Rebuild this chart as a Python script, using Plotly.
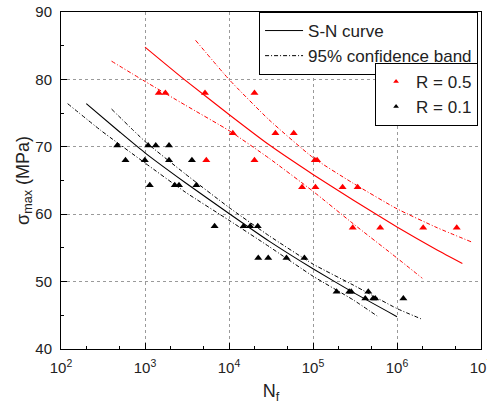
import plotly.graph_objects as go

# ---------------- data ----------------
# R = 0.5 test points
red_N = [1460, 1750, 5180, 20100, 11100, 35700, 59000, 5370, 20100, 105000, 112000,
         74100, 107000, 225000, 340000, 297000, 631000, 2050000, 5140000]
red_S = [78, 78, 78, 78, 72, 72, 72, 68, 68, 68, 68,
         64, 64, 64, 64, 58, 58, 58, 58]

# R = 0.1 test points
blk_N = [467, 1090, 1343, 1932, 586, 995, 1932, 3620, 1140, 2260, 2540, 4090,
         6740, 14900, 17900, 22000, 22300, 29300, 48300, 79000,
         191000, 270000, 285000, 455000, 419000, 520000, 550000, 1190000]
blk_S = [70.2, 70.2, 70.2, 70.2, 68, 68, 68, 68, 64.3, 64.3, 64.3, 64.3,
         58.2, 58.2, 58.2, 58.2, 53.5, 53.5, 53.5, 53.5,
         48.5, 48.5, 48.5, 48.5, 47.5, 47.5, 47.5, 47.5]

# S-N curves and 95% confidence bands
red_sn_N = [1000, 3000, 10000, 30000, 100000, 300000, 1000000, 3000000, 6000000]
red_sn_S = [84.8, 79.9, 74.8, 70.3, 65.9, 62.1, 58.1, 54.7, 52.7]
red_up_N = [4000, 10000, 30000, 100000, 300000, 1000000, 3000000, 8000000]
red_up_S = [85.8, 80.0, 74.0, 68.4, 64.6, 60.8, 58.0, 55.8]
red_lo_N = [400, 1000, 3000, 10000, 30000, 100000, 300000, 1000000, 2000000]
red_lo_S = [82.7, 79.7, 76.2, 72.4, 68.3, 63.4, 58.6, 53.5, 50.5]

blk_sn_N = [200, 500, 1000, 3000, 10000, 30000, 100000, 300000, 1000000]
blk_sn_S = [76.4, 72.2, 69.1, 64.7, 60.1, 56.0, 51.9, 48.4, 44.8]
blk_up_N = [400, 1000, 3000, 10000, 30000, 100000, 300000, 1000000, 2000000]
blk_up_S = [75.6, 70.8, 66.0, 61.0, 56.8, 52.6, 49.5, 46.0, 44.4]
blk_lo_N = [120, 300, 1000, 3000, 10000, 30000, 100000, 300000, 580000]
blk_lo_S = [76.4, 72.4, 67.6, 63.3, 59.1, 55.2, 50.8, 47.3, 44.9]

x_ticks = [100, 1000, 10000, 100000, 1000000, 10000000]
x_tick_text = ["10<sup>2</sup>", "10<sup>3</sup>", "10<sup>4</sup>",
               "10<sup>5</sup>", "10<sup>6</sup>", "10<sup>7</sup>"]
y_ticks = [40, 50, 60, 70, 80, 90]

# ---------------- figure ----------------
FONT = "Liberation Sans, Arial, sans-serif"
RED = "#ff0000"
BLK = "#000000"
BAND_DASH = "4px,2px,1px,2px"

fig = go.Figure()

def line(xs, ys, color, dash, width=1.1):
    fig.add_trace(go.Scatter(x=xs, y=ys, mode="lines", showlegend=False,
                             line=dict(color=color, width=width, dash=dash, shape="spline", smoothing=0.5),
                             hoverinfo="skip"))

line(red_sn_N, red_sn_S, RED, "solid")
line(red_up_N, red_up_S, RED, BAND_DASH, 1)
line(red_lo_N, red_lo_S, RED, BAND_DASH, 1)
line(blk_sn_N, blk_sn_S, BLK, "solid")
line(blk_up_N, blk_up_S, BLK, BAND_DASH, 1)
line(blk_lo_N, blk_lo_S, BLK, BAND_DASH, 1)

fig.add_trace(go.Scatter(x=red_N, y=red_S, mode="markers", showlegend=False,
                         marker=dict(symbol="triangle-up", size=7, color=RED)))
fig.add_trace(go.Scatter(x=blk_N, y=blk_S, mode="markers", showlegend=False,
                         marker=dict(symbol="triangle-up", size=7, color=BLK)))

# legend entries
fig.add_trace(go.Scatter(x=[None], y=[None], mode="lines", name="S-N curve",
                         line=dict(color=BLK, width=1), legend="legend"))
fig.add_trace(go.Scatter(x=[None], y=[None], mode="lines", name="95% confidence band",
                         line=dict(color=BLK, width=1, dash=BAND_DASH), legend="legend"))
fig.add_trace(go.Scatter(x=[None], y=[None], mode="markers", name="R = 0.5",
                         marker=dict(symbol="triangle-up", size=5, color=RED), legend="legend2"))
fig.add_trace(go.Scatter(x=[None], y=[None], mode="markers", name="R = 0.1",
                         marker=dict(symbol="triangle-up", size=5, color=BLK), legend="legend2"))

axis_common = dict(
    showline=True, linecolor=BLK, linewidth=1, mirror=True,
    ticks="inside", ticklen=6, tickcolor=BLK, tickwidth=1,
    showgrid=True, gridcolor="#9a9a9a", gridwidth=1, griddash="dot",
    zeroline=False, tickfont=dict(family=FONT, size=15, color="#222"),
    ticklabelstandoff=5, ticklabeloverflow="allow", automargin=False,
)

fig.update_xaxes(type="log", range=[2, 7], tickvals=x_ticks, ticktext=x_tick_text,
                 minor=dict(ticks="inside", ticklen=3, tickcolor=BLK, showgrid=False),
                 title=dict(text="N<sub>f</sub>", font=dict(family=FONT, size=18, color="#222"), standoff=17),
                 **axis_common)
fig.update_yaxes(range=[40, 90], tickvals=y_ticks,
                 minor=dict(ticks="inside", ticklen=3, tickcolor=BLK, dtick=5, showgrid=False),
                 title=dict(text="σ<sub>max</sub> (MPa)", font=dict(family=FONT, size=18, color="#222"), standoff=0),
                 **axis_common)

fig.update_layout(
    width=487, height=404,
    margin=dict(l=61, r=6, t=12, b=55),
    paper_bgcolor="white", plot_bgcolor="white",
    font=dict(family=FONT, color="#222"),
    showlegend=True,
    legend=dict(x=0.993, y=1.0, xanchor="right", yanchor="top",
                bgcolor="white", bordercolor=BLK, borderwidth=1,
                font=dict(family=FONT, size=17, color="#222"),
                tracegroupgap=0, itemwidth=38),
    legend2=dict(x=0.993, y=0.849, xanchor="right", yanchor="top",
                 bgcolor="white", bordercolor=BLK, borderwidth=1,
                 font=dict(family=FONT, size=17, color="#222"),
                 tracegroupgap=0, itemwidth=30),
)

fig.write_html("out.html")
